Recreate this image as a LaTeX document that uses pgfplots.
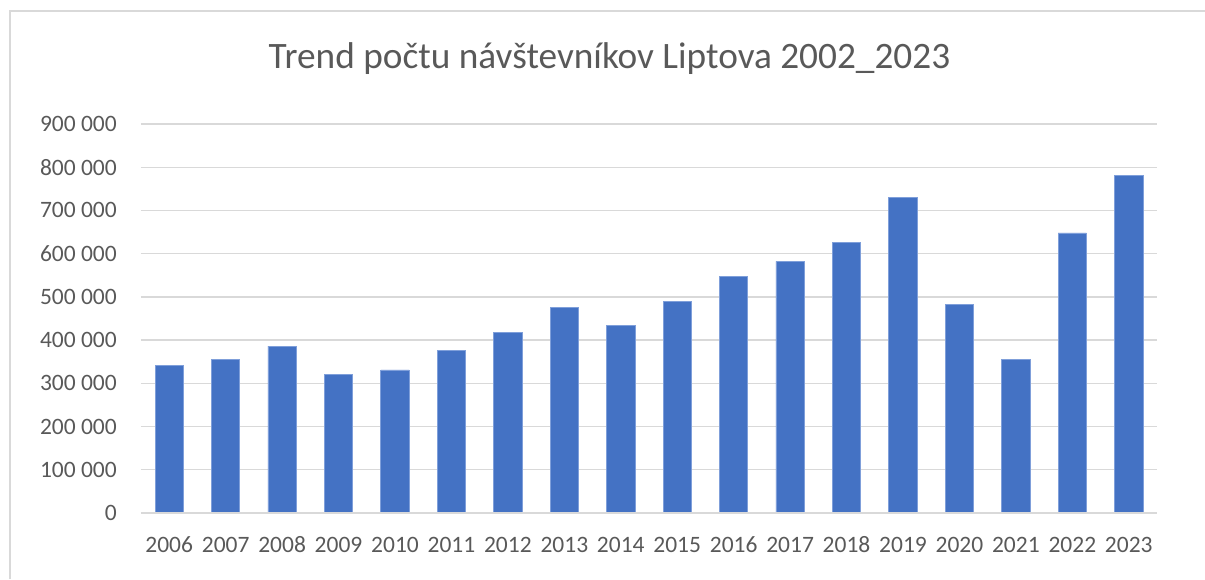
\documentclass[border=0pt]{standalone}
\usepackage{fontspec}
\setmainfont{Carlito}
\usepackage{pgfplots}
\pgfplotsset{compat=1.18}
\definecolor{barblue}{HTML}{4472C4}
\definecolor{baredge}{HTML}{7F9FDA}
\definecolor{gridgray}{HTML}{D9D9D9}
\definecolor{txtgray}{HTML}{595959}
\definecolor{framegray}{HTML}{D9D9D9}
\begin{document}
\begin{tikzpicture}
\useasboundingbox (0,0) rectangle (1205pt,-579pt);
\draw[framegray, line width=1.2pt] (10pt,-579pt) -- (10pt,-11pt) -- (1205pt,-11pt);
\node[anchor=base, text=txtgray, inner sep=0pt, font=\fontsize{37.3}{44}\selectfont] at (609.5pt,-68pt) {Trend počtu návštevníkov Liptova 2002\_2023};
\begin{axis}[
  at={(141pt,-513pt)}, anchor=south west,
  width=1016pt, height=389pt, scale only axis,
  xmin=-0.5, xmax=17.5, ymin=0, ymax=900000,
  ybar, bar width=28.3pt,
  axis line style={draw=none},
  major tick length=0pt,
  ymajorgrids, grid style={gridgray, line width=1.3pt},
  xtick={0,...,17},
  xticklabels={2006,2007,2008,2009,2010,2011,2012,2013,2014,2015,2016,2017,2018,2019,2020,2021,2022,2023},
  ytick={0,100000,200000,300000,400000,500000,600000,700000,800000,900000},
  yticklabels={0,100 000,200 000,300 000,400 000,500 000,600 000,700 000,800 000,900 000},
  scaled y ticks=false,
  tick label style={text=txtgray, font=\fontsize{23.5}{28}\selectfont, inner sep=0pt},
  yticklabel style={anchor=east, xshift=-24pt},
  xticklabel style={anchor=north, yshift=-23.7pt},
]
\addplot[fill=barblue, draw=baredge, line width=0.8pt] coordinates {
(0,341000) (1,354500) (2,386000) (3,321000) (4,331000) (5,377000)
(6,417000) (7,476000) (8,434000) (9,490000) (10,547000) (11,582000)
(12,627000) (13,730000) (14,483000) (15,356000) (16,648000) (17,781000)
};
\draw[gridgray, line width=1.3pt] (axis cs:-0.5,0) -- (axis cs:17.5,0);
\end{axis}
\end{tikzpicture}
\end{document}
